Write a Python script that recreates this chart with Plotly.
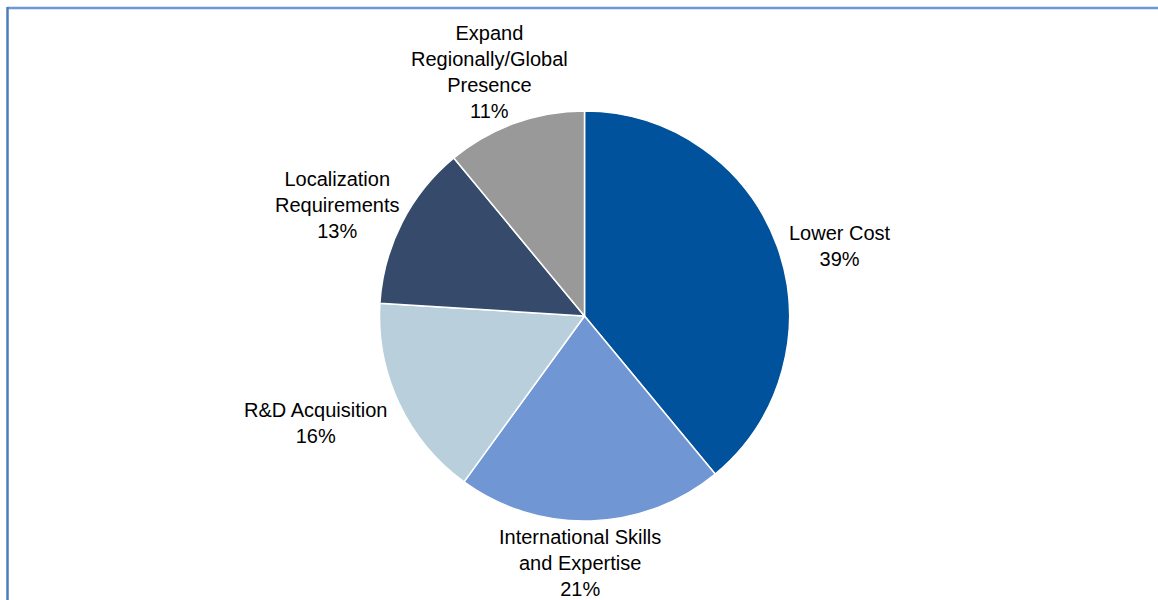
import math
import plotly.graph_objects as go

# Reasons for offshoring R&D, share of respondents
labels = [
    "Lower Cost",
    "International Skills<br>and Expertise",
    "R&D Acquisition",
    "Localization<br>Requirements",
    "Expand<br>Regionally/Global<br>Presence",
]
shares = [39, 21, 16, 13, 11]
colors = ["#00529c", "#7097d3", "#b9cfdc", "#364b6b", "#999999"]

W, H = 1158, 600
cx, cy, r = 584.5, 316, 205
FONT = "Liberation Sans, Arial, sans-serif"

fig = go.Figure(
    go.Pie(
        labels=labels,
        values=shares,
        sort=False,
        direction="clockwise",
        rotation=0,
        marker=dict(colors=colors, line=dict(color="white", width=1.5)),
        textinfo="none",
        hoverinfo="label+percent",
        showlegend=False,
        domain=dict(
            x=[(cx - r) / W, (cx + r) / W],
            y=[1 - (cy + r) / H, 1 - (cy - r) / H],
        ),
    )
)

# Data labels: placed just outside the rim at each slice's mid-angle,
# with small per-label nudges so the text blocks sit clear of the pie.
nudges = [(0, -3), (-11, 7), (-1, -15), (9, 13), (-22, -10)]
gap = 10
total = sum(shares)
start = 0.0
for lab, val, (dx, dy) in zip(labels, shares, nudges):
    mid = (start + val / 2) / total * 2 * math.pi
    start += val
    s, c = math.sin(mid), math.cos(mid)
    px = cx + (r + gap) * s
    py = cy - (r + gap) * c
    xanchor = "left" if s > 0.5 else ("right" if s < -0.5 else "center")
    yanchor = "bottom" if c > 0.5 else ("top" if c < -0.5 else "middle")
    fig.add_annotation(
        x=px / W, y=1 - py / H, xref="paper", yref="paper",
        text=f"{lab}<br>{val}%",
        showarrow=False, align="center",
        xanchor=xanchor, yanchor=yanchor,
        xshift=dx, yshift=dy,
        font=dict(family=FONT, size=20, color="black"),
    )

# Frame line along the top and left of the chart area
fig.add_shape(type="line", xref="paper", yref="paper",
              x0=7.5 / W, x1=1.01, y0=1 - 8 / H, y1=1 - 8 / H,
              line=dict(color="#6d98d4", width=2.5))
fig.add_shape(type="line", xref="paper", yref="paper",
              x0=7.5 / W, x1=7.5 / W, y0=1 - 7 / H, y1=-0.01,
              line=dict(color="#4a7ebb", width=2.5))

fig.update_layout(
    width=W,
    height=H,
    margin=dict(l=0, r=0, t=0, b=0),
    paper_bgcolor="white",
    plot_bgcolor="white",
    font=dict(family=FONT, size=20, color="black"),
)

fig.write_html("out.html")
